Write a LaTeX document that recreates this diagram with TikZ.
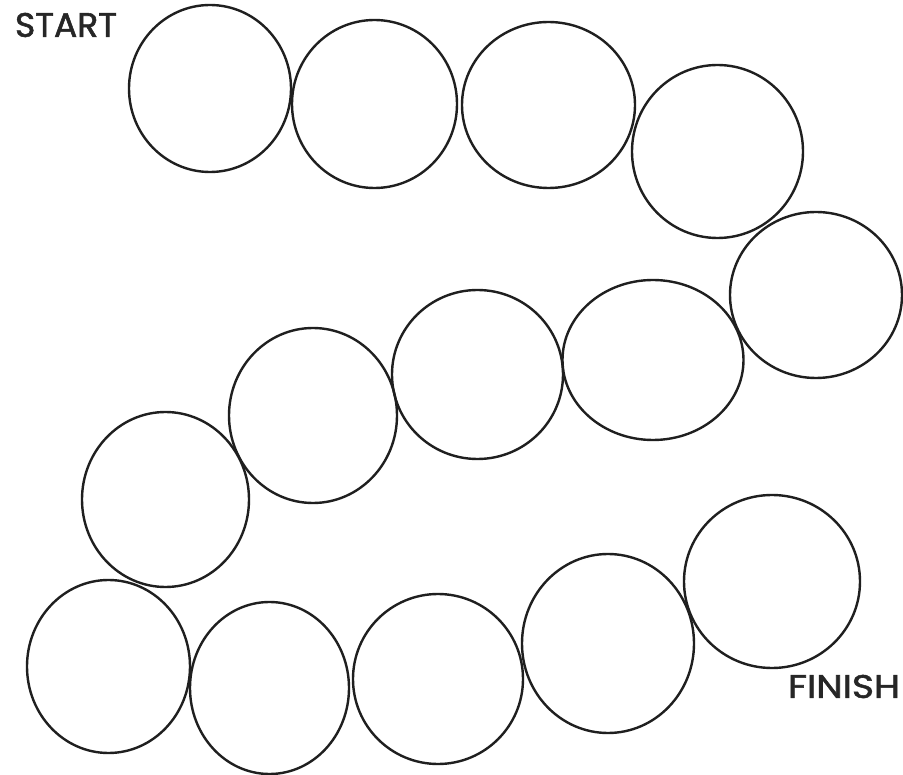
\documentclass[tikz,border=0pt]{standalone}
\usepackage{graphicx}
\usepackage{fontspec}
\setmainfont{Poppins}
\newfontfamily\lblfont{Poppins}[FakeBold=1.6]
\usetikzlibrary{shapes.geometric}
\tikzset{
  spot/.style n args={2}{ellipse, draw=black!88, line width=2.4pt, inner sep=0pt,
    minimum width=#1pt, minimum height=#2pt},
  lbl/.style={inner sep=0pt, text=black!85, font=\lblfont}
}
\begin{document}
\begin{tikzpicture}[x=1pt,y=-1pt]
\useasboundingbox[fill=white] (0,0) rectangle (903,775);
% row 1
\node[spot={162}{167}] (c1) at (210,88.5) {};
\node[spot={165}{168}] (c2) at (374.5,104) {};
\node[spot={173}{166}] (c3) at (548.5,105) {};
\node[spot={171}{173}] (c4) at (717.5,151.5) {};
% row 2
\node[spot={172}{166}] (c5) at (816,295) {};
\node[spot={181}{160}] (c6) at (653,360) {};
\node[spot={171}{169}] (c7) at (477.5,374.5) {};
\node[spot={168}{175}] (c8) at (313,415.5) {};
\node[spot={167}{175}] (c9) at (165.5,499.5) {};
% row 3
\node[spot={163}{173}] (c10) at (108.5,666.5) {};
\node[spot={159}{172}] (c11) at (269.5,688) {};
\node[spot={170}{170}] (c12) at (438,679) {};
\node[spot={172}{179}] (c13) at (608,643.5) {};
\node[spot={176}{173}] (c14) at (772,581.5) {};
% labels
\node[lbl] (start) at (66,25) {\resizebox{102pt}{24pt}{START}};
\node[lbl] (finish) at (844,686.5) {\resizebox{112pt}{23pt}{FINISH}};
\end{tikzpicture}
\end{document}
